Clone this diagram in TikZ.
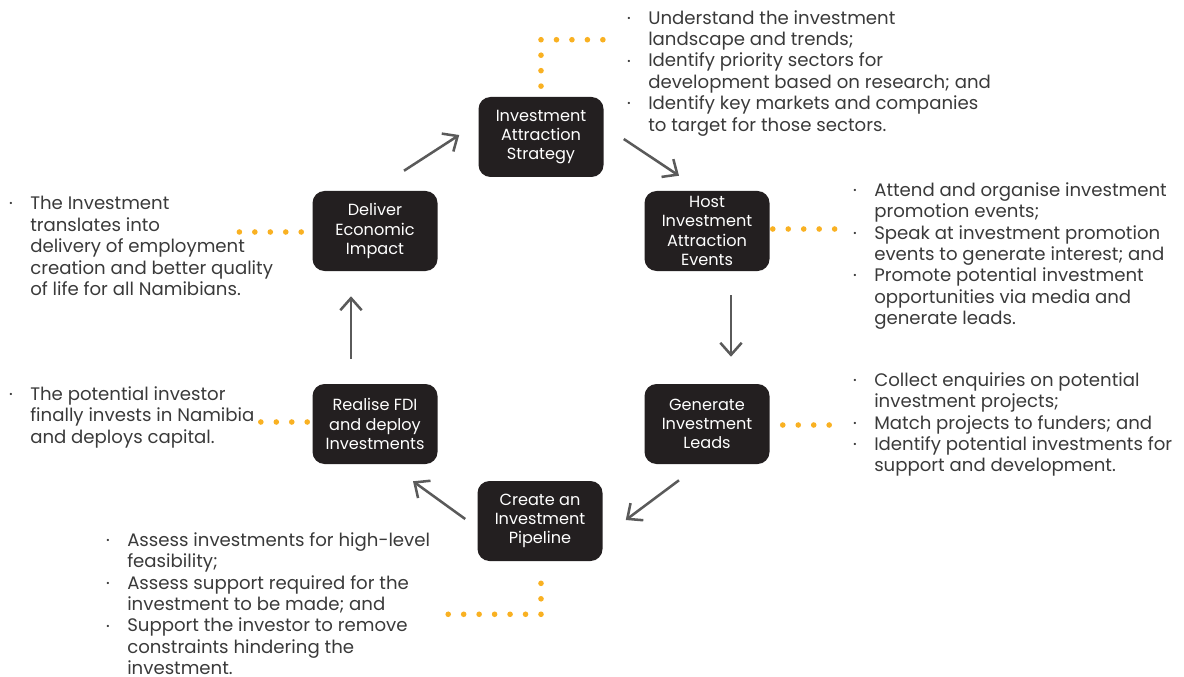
\documentclass[tikz,border=0pt]{standalone}
\usepackage{fontspec}
\setmainfont{Poppins}
\usepackage{graphicx}
\usetikzlibrary{arrows.meta}
\usetikzlibrary{calc}
\definecolor{boxgrey}{HTML}{231F20}
\definecolor{txtgrey}{HTML}{3A3A3A}
\definecolor{arrgrey}{HTML}{5A5A5A}
\definecolor{dotorange}{HTML}{F9B122}
\newcommand{\bul}{\llap{\raisebox{0.3ex}{\scalebox{0.5}{\textbullet}}\hspace{13pt}}}
\begin{document}
\begin{tikzpicture}[x=0.75pt,y=-0.75pt,
    stage/.style={fill=boxgrey,rounded corners=9pt,minimum width=93.75pt,minimum height=60pt,inner sep=0.5pt,align=center,text=white,font=\fontsize{12.1}{14.5}\selectfont},
    arr/.style={-{Straight Barb[length=9pt,width=16pt]},arrgrey,line width=1.9pt},
    dots/.style={dotorange,line width=4.2pt,line cap=round,dash pattern=on 0pt off 11.6pt},
    list/.style={anchor=north west,inner sep=0pt,align=left,text=txtgrey,font=\fontsize{13.6}{16.1}\selectfont}]
    \useasboundingbox (0,0) rectangle (1184,677);
    \node[stage] (st) at (541,137) {Investment\\Attraction\\Strategy};
    \node[stage] (ho) at (707,231) {Host\\Investment\\Attraction\\Events};
    \node[stage] (le) at (707,424) {Generate\\Investment\\Leads};
    \node[stage] (pi) at (540,521) {Create an\\Investment\\Pipeline};
    \node[stage] (re) at (375,424) {Realise FDI\\and deploy\\Investments};
    \node[stage] (de) at (375,231) {Deliver\\Economic\\Impact};
    \draw[arr] ($(de.north)+(29,-20)$) -- ($(st.west)+(-19,-2)$);
    \draw[arr] ($(st.east)+(20,2)$) -- ($(ho.north)+(-28,-15)$);
    \draw[arr] ($(ho.south)+(24,24)$) -- ($(le.north)+(24,-27)$);
    \draw[arr] ($(le.south)+(-28,16)$) -- ($(pi.east)+(23,-1)$);
    \draw[arr] ($(pi.west)+(-12,-2)$) -- ($(re.south)+(38,17)$);
    \draw[arr] ($(re.north)+(-24,-25)$) -- ($(de.south)+(-24,25)$);
    \node[list] (stl) at (648,10) {\bul Understand the investment\\landscape and trends;\\\bul Identify priority sectors for\\development based on research; and\\\bul Identify key markets and companies\\to target for those sectors.};
    \node[list] (hol) at (874,182) {\bul Attend and organise investment\\promotion events;\\\bul Speak at investment promotion\\events to generate interest; and\\\bul Promote potential investment\\opportunities via media and\\generate leads.};
    \node[list] (lel) at (874,372) {\bul Collect enquiries on potential\\investment projects;\\\bul Match projects to funders; and\\\bul Identify potential investments for\\support and development.};
    \node[list] (pil) at (127,532) {\bul Assess investments for high-level\\feasibility;\\\bul Assess support required for the\\investment to be made; and\\\bul Support the investor to remove\\constraints hindering the\\investment.};
    \node[list] (rel) at (30,386) {\bul The potential investor\\finally invests in Namibia\\and deploys capital.};
    \node[list] (del) at (30,196) {\bul The Investment\\translates into\\delivery of employment\\creation and better quality\\of life for all Namibians.};
    \coordinate (stc) at ($(st.north)+(0,-57)$);
    \draw[dots] (stc) -- ($(st.north)+(0,-10)$) (stc) -- ++(63,0);
    \draw[dots] ($(ho.east)+(3,-2)$) -- ++(62.5,0);
    \draw[dots] ($(le.east)+(13,1)$) -- ++(47,0);
    \draw[dots] ($(de.west)+(-11,1)$) -- ++(-62.5,0);
    \draw[dots] ($(re.west)+(-5,-2)$) -- ++(-47,0);
    \coordinate (pic) at ($(pi.south)+(1,53)$);
    \draw[dots] (pic) -- ($(pi.south)+(1,10)$) (pic) -- ++(-93.5,0);
\end{tikzpicture}
\end{document}
